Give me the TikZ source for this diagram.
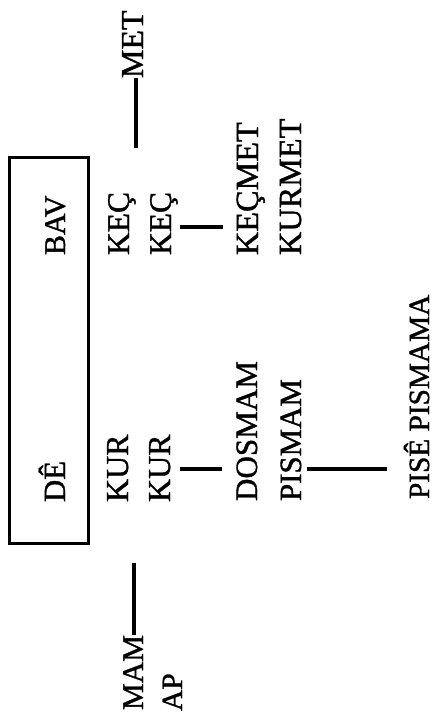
\documentclass[tikz,border=0pt]{standalone}
\usepackage{fontspec}
\newfontfamily\thickserif[FakeBold=1.2]{Liberation Serif}
\begin{document}
\begin{tikzpicture}[x=1pt,y=-1pt,
  lbl/.style={rotate=90,anchor=base west,inner sep=0pt,outer sep=0pt,font=\thickserif\fontsize{#1}{#1}\selectfont},
  lbl/.default=31,
  conn/.style={line width=3.4pt},
  frame/.style={line width=3pt}]
\useasboundingbox (0,0) rectangle (438,728);
% box
\draw[frame] (9,157) rectangle (88,543);
% labels
\node[lbl=30.8] (DE) at (65,502) {DÊ};
\node[lbl=30] (BAV) at (65,255) {BAV};
\node[lbl=31.5] (KEC1) at (129,255) {KEÇ};
\node[lbl=31.5] (KEC2) at (171,255) {KEÇ};
\node[lbl=32] (KUR1) at (128,502) {KUR};
\node[lbl=32] (KUR2) at (170,502) {KUR};
\node[lbl=32.3] (KECMET) at (258,255) {KEÇMET};
\node[lbl=32.3] (KURMET) at (301,255) {KURMET};
\node[lbl=31.1] (DOSMAM) at (257,501) {DOSMAM};
\node[lbl=30.9] (PISMAM) at (301,501) {PISMAM};
\node[lbl=29.3] (PISE) at (429,499) {PISÊ PISMAMA};
\node[lbl=32] (MET) at (143,78) {MET};
\node[lbl=30] (MAM) at (143,710) {MAM};
\node[lbl=29.5] (AP) at (182,711) {AP};
% connector end points
\coordinate (metB) at (136,148);
\coordinate (kecA) at (180,227);
\coordinate (kecB) at (223,227);
\coordinate (kurA) at (180,469);
\coordinate (kurB) at (222,469);
\coordinate (pisA) at (307,469);
\coordinate (pisB) at (387,469);
\coordinate (mamT) at (134,563);
% connectors
\draw[conn] (MET.west -| metB) -- (metB);
\draw[conn] (kecA) -- (kecB);
\draw[conn] (kurA) -- (kurB);
\draw[conn] (pisA) -- (pisB);
\draw[conn] (mamT) -- (mamT |- MAM.east);
\end{tikzpicture}
\end{document}
